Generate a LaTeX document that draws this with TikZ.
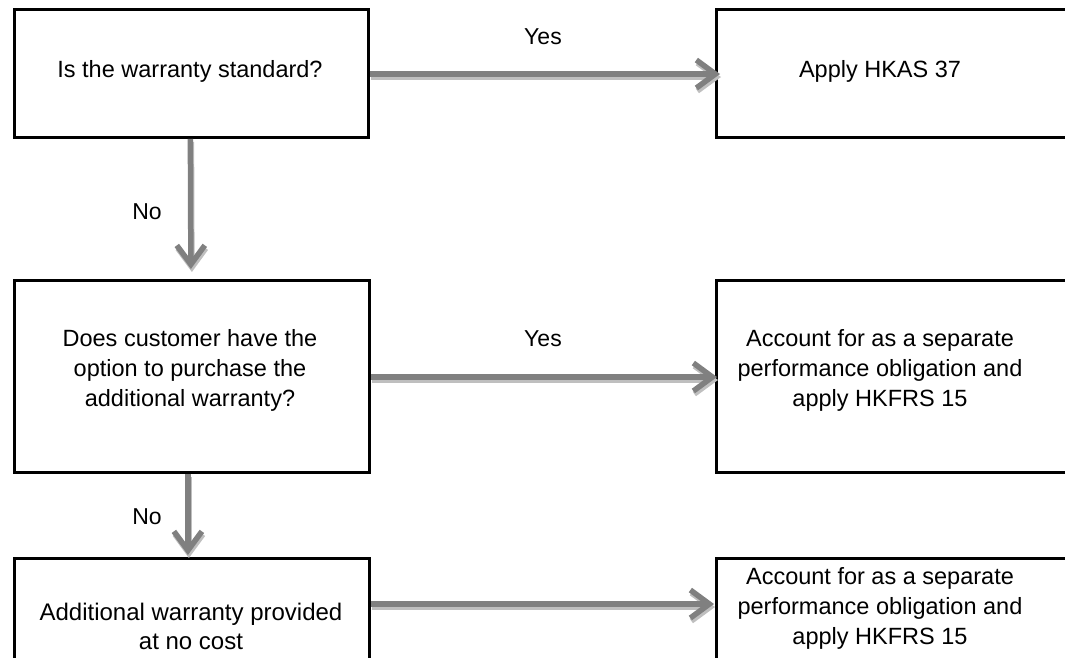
\documentclass[tikz,border=0pt]{standalone}
\usepackage{fontspec}
\setmainfont{Liberation Sans}
\usetikzlibrary{arrows.meta}
\begin{document}
\begin{tikzpicture}[x=1pt,y=-1pt,
  box/.style={draw=black,line width=2.8pt,inner sep=0pt,anchor=north west},
  txt/.style={align=center,font=\fontsize{23.5}{30}\selectfont,inner sep=0pt},
  lbl/.style={font=\fontsize{23}{26}\selectfont,inner sep=0pt},
  flowhead/.style={line width=5.5pt,-{Straight Barb[length=19pt,width=28pt]}},
  flow/.style={flowhead,draw=black!50},
  flowshadow/.style={flowhead,draw=black!25,transform canvas={shift={(1pt,-3pt)}}}]
\useasboundingbox (0,0) rectangle (1065,657);
\clip (0,0) rectangle (1065,657);

% decision and outcome boxes
\node[box,minimum width=354pt,minimum height=128pt] (b1) at (13,8) {};
\node[box,minimum width=360pt,minimum height=128pt] (b2) at (715,8) {};
\node[box,minimum width=355pt,minimum height=192pt] (b3) at (13,279) {};
\node[box,minimum width=360pt,minimum height=192pt] (b4) at (715,279) {};
\node[box,minimum width=355pt,minimum height=140pt] (b5) at (13,557) {};
\node[box,minimum width=360pt,minimum height=140pt] (b6) at (715,557) {};

% box texts
\node[txt] (t1) at (190,71) {Is the warranty standard?};
\node[txt] (t2) at (880,71) {Apply HKAS 37};
\node[txt] (t3) at (190,370) {Does customer have the\\option to purchase the\\additional warranty?};
\node[txt] (t4) at (880,370) {Account for as a separate\\performance obligation and\\apply HKFRS 15};
\node[txt,font=\fontsize{24}{29}\selectfont] (t5) at (191,626) {Additional warranty provided\\at no cost};
\node[txt] (t6) at (880,608) {Account for as a separate\\performance obligation and\\apply HKFRS 15};

% heights of the horizontal connectors
\coordinate (r1) at (0,74);
\coordinate (r2) at (0,377);
\coordinate (r3) at (0,604);

% connector shadows
\draw[flowshadow] (b1.east |- r1) -- ([xshift=5pt]b2.west |- r1);
\draw[flowshadow] ([xshift=-1pt]b1.south) -- ([xshift=-1pt,yshift=10pt]b3.north);
\draw[flowshadow] (b3.east |- r2) -- ([xshift=2pt]b4.west |- r2);
\draw[flowshadow] ([xshift=-4pt]b3.south) -- ([xshift=-4pt,yshift=2pt]b5.north);
\draw[flowshadow] (b5.east |- r3) -- ([xshift=-1pt]b6.west |- r3);

% connectors
\draw[flow] (b1.east |- r1) -- ([xshift=5pt]b2.west |- r1);
\draw[flow] ([xshift=-1pt]b1.south) -- ([xshift=-1pt,yshift=10pt]b3.north);
\draw[flow] (b3.east |- r2) -- ([xshift=2pt]b4.west |- r2);
\draw[flow] ([xshift=-4pt]b3.south) -- ([xshift=-4pt,yshift=2pt]b5.north);
\draw[flow] (b5.east |- r3) -- ([xshift=-1pt]b6.west |- r3);

% branch labels
\node[lbl] (y1) at (543,37) {Yes};
\node[lbl] (y2) at (543,339) {Yes};
\node[lbl] (n1) at (147,212) {No};
\node[lbl] (n2) at (147,517) {No};
\end{tikzpicture}
\end{document}
